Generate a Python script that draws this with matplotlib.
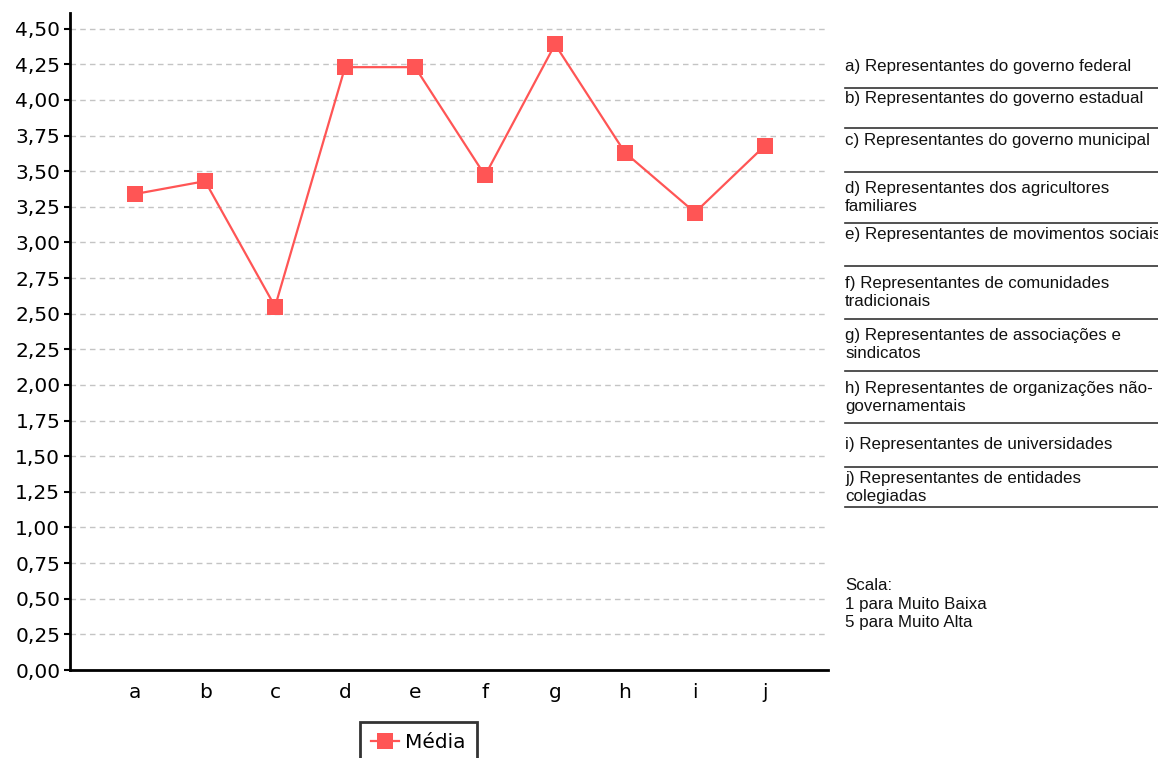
import numpy as np
import matplotlib
matplotlib.use('Agg')
import matplotlib.pyplot as plt
from matplotlib.lines import Line2D

# dados
categorias = ['a', 'b', 'c', 'd', 'e', 'f', 'g', 'h', 'i', 'j']
media = [3.34, 3.43, 2.55, 4.23, 4.23, 3.47, 4.39, 3.63, 3.21, 3.68]
yticks = np.arange(0, 4.51, 0.25)

itens = [
    'a) Representantes do governo federal',
    'b) Representantes do governo estadual',
    'c) Representantes do governo municipal',
    'd) Representantes dos agricultores\nfamiliares',
    'e) Representantes de movimentos sociais',
    'f) Representantes de comunidades\ntradicionais',
    'g) Representantes de associações e\nsindicatos',
    'h) Representantes de organizações não-\ngovernamentais',
    'i) Representantes de universidades',
    'j) Representantes de entidades\ncolegiadas',
]
escala = 'Scala:\n1 para Muito Baixa\n5 para Muito Alta'

W, H = 1158, 758
cor = '#FF5555'

fig = plt.figure(figsize=(W / 100, H / 100), dpi=100)
ax = fig.add_axes([70 / W, 1 - 670 / H, (828 - 70) / W, (670 - 13) / H])

x = np.arange(len(categorias))
ax.plot(x, media, color=cor, lw=1.6, marker='s', markersize=11,
        markeredgewidth=0, label='Média', zorder=3)

ax.set_xlim(-0.93, 9.9)
ax.set_ylim(0, 4.61)
ax.set_xticks(x)
ax.set_xticklabels(categorias)
ax.set_yticks(yticks)
ax.set_yticklabels([f'{v:.2f}'.replace('.', ',') for v in yticks])
ax.tick_params(axis='y', labelsize=14.5, length=4, width=1.5, pad=3)
ax.tick_params(axis='x', labelsize=14.5, length=0, pad=9)

ax.yaxis.grid(True, color='#c4c4c4', linestyle=(0, (4, 3)), linewidth=1)
ax.set_axisbelow(True)
for s in ['top', 'right']:
    ax.spines[s].set_visible(False)
ax.spines['left'].set_linewidth(2)
ax.spines['bottom'].set_linewidth(2)

leg = ax.legend(loc='upper left', bbox_to_anchor=((360 - 70) / (828 - 70), -(722 - 670) / (670 - 13)),
                fontsize=14.5, frameon=True, fancybox=False, handlelength=1.4,
                handletextpad=0.3, borderpad=0.55, borderaxespad=0)
leg.get_frame().set_edgecolor('black')
leg.get_frame().set_linewidth(2)

# painel da direita
def fy(py):
    return 1 - py / H

centros = [67, 99, 141, 197.5, 234, 292.5, 344.5, 397.5, 445, 487.5]
separadores = [88, 128, 172, 223, 266, 319, 371, 423, 467, 507]
for txt, cy in zip(itens, centros):
    fig.text(845 / W, fy(cy), txt, fontsize=12.2, family='Liberation Sans',
             va='center', ha='left', linespacing=1.28, color='#111111')
for sy in separadores:
    fig.add_artist(Line2D([845 / W, 1], [fy(sy), fy(sy)], color='#333333', lw=1.2))
fig.text(845 / W, fy(604), escala, fontsize=12.2, family='Liberation Sans',
         va='center', ha='left', linespacing=1.28, color='#111111')

fig.savefig('out.png', dpi=100)
